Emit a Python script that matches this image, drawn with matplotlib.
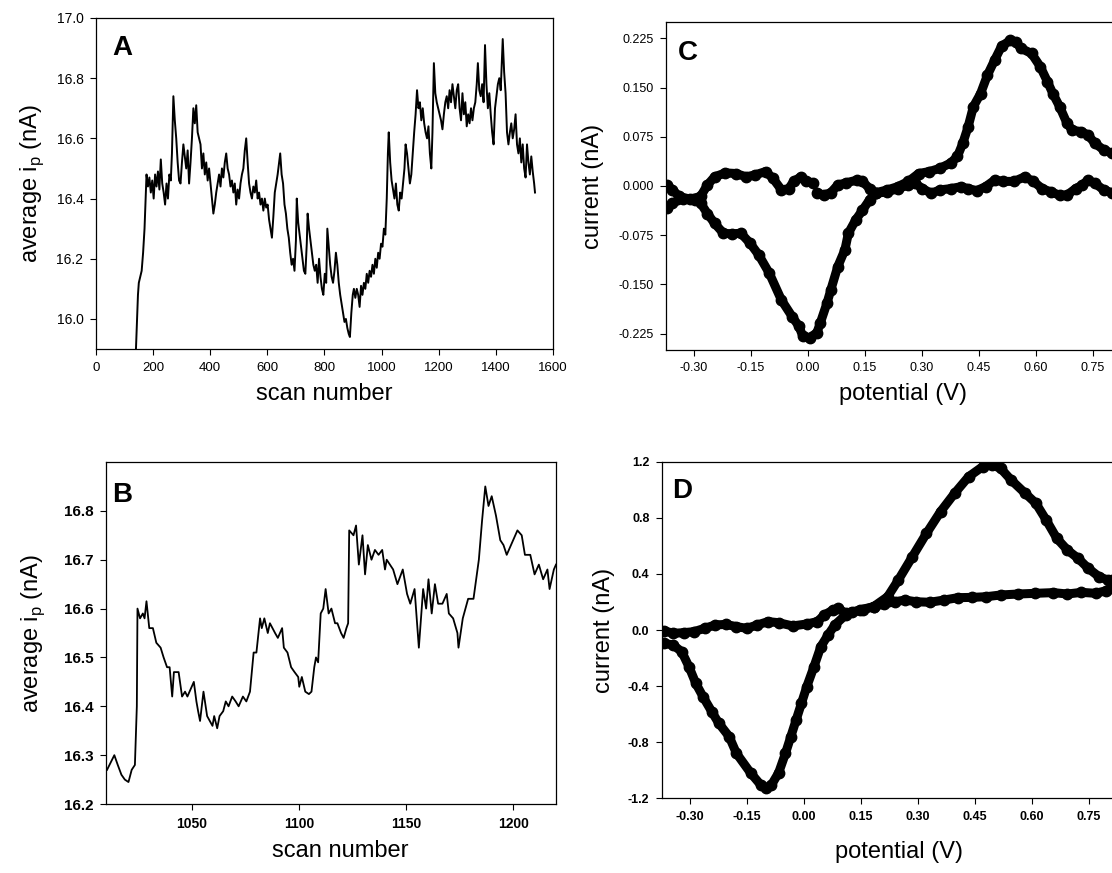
import numpy as np
import matplotlib
matplotlib.use("Agg")
import matplotlib.pyplot as plt

plt.rcParams["font.family"] = ["Liberation Sans", "DejaVu Sans"]
plt.rcParams["axes.unicode_minus"] = False
plt.rcParams["mathtext.fontset"] = "custom"
plt.rcParams["mathtext.rm"] = "Liberation Sans"

# ---- panel A: average peak current over the whole run ----
scan_a = [140, 143, 147, 150, 155, 160, 165, 170, 174, 177, 182, 187, 192, 197, 202, 207, 212, 217,
          222, 227, 232, 237, 242, 247, 252, 257, 262, 266, 271, 276, 281, 286, 291, 296, 301, 306,
          311, 316, 321, 326, 331, 336, 341, 346, 351, 356, 361, 366, 371, 376, 381, 386, 391, 396,
          401, 406, 411, 416, 421, 426, 431, 436, 441, 446, 451, 456, 461, 466, 471, 476, 481, 486,
          491, 496, 501, 506, 511, 516, 521, 526, 531, 536, 541, 546, 551, 556, 561, 566, 571, 576,
          581, 586, 591, 596, 601, 606, 611, 616, 621, 626, 631, 636, 641, 645, 650, 655, 660, 665,
          670, 675, 680, 685, 690, 695, 700, 703, 708, 713, 718, 723, 728, 733, 738, 741, 746, 751,
          756, 761, 766, 771, 776, 781, 786, 791, 796, 801, 806, 810, 815, 820, 825, 830, 835, 840,
          845, 850, 855, 860, 865, 870, 875, 880, 885, 889, 894, 899, 903, 908, 913, 918, 923, 928,
          933, 938, 943, 948, 953, 958, 963, 968, 973, 978, 983, 988, 993, 998, 1003, 1008, 1013,
          1018, 1022, 1025, 1030, 1035, 1040, 1045, 1050, 1055, 1060, 1065, 1070, 1075, 1080, 1084,
          1089, 1094, 1099, 1104, 1109, 1114, 1119, 1124, 1129, 1134, 1139, 1144, 1149, 1154, 1159,
          1164, 1169, 1174, 1178, 1183, 1188, 1193, 1198, 1203, 1208, 1213, 1218, 1223, 1228, 1233,
          1238, 1243, 1248, 1253, 1258, 1263, 1268, 1273, 1278, 1283, 1288, 1293, 1298, 1303, 1308,
          1313, 1318, 1323, 1328, 1333, 1337, 1342, 1347, 1352, 1357, 1362, 1367, 1372, 1377, 1382,
          1387, 1392, 1397, 1402, 1407, 1412, 1417, 1421, 1424, 1429, 1434, 1439, 1444, 1449, 1454,
          1459, 1464, 1469, 1474, 1479, 1484, 1489, 1494, 1499, 1504, 1509, 1514, 1519, 1524, 1529,
          1534, 1537]
ip_a = [15.90, 15.98, 16.08, 16.12, 16.14, 16.16, 16.22, 16.30, 16.40, 16.48, 16.44, 16.47, 16.42,
        16.46, 16.40, 16.48, 16.44, 16.49, 16.43, 16.53, 16.45, 16.42, 16.38, 16.45, 16.40, 16.48,
        16.46, 16.55, 16.74, 16.66, 16.60, 16.52, 16.46, 16.45, 16.52, 16.58, 16.54, 16.50, 16.56,
        16.45, 16.52, 16.60, 16.70, 16.65, 16.71, 16.62, 16.60, 16.58, 16.50, 16.55, 16.48, 16.52,
        16.46, 16.50, 16.45, 16.40, 16.35, 16.38, 16.42, 16.45, 16.48, 16.44, 16.50, 16.47, 16.52,
        16.55, 16.50, 16.48, 16.44, 16.46, 16.42, 16.45, 16.38, 16.43, 16.40, 16.45, 16.48, 16.50,
        16.56, 16.60, 16.52, 16.45, 16.42, 16.40, 16.44, 16.42, 16.46, 16.40, 16.42, 16.38, 16.40,
        16.36, 16.40, 16.37, 16.38, 16.33, 16.30, 16.27, 16.34, 16.42, 16.45, 16.48, 16.52, 16.55,
        16.48, 16.45, 16.38, 16.35, 16.30, 16.27, 16.22, 16.18, 16.20, 16.16, 16.26, 16.40, 16.32,
        16.28, 16.24, 16.20, 16.16, 16.15, 16.25, 16.35, 16.30, 16.26, 16.22, 16.18, 16.16, 16.18,
        16.12, 16.20, 16.14, 16.10, 16.08, 16.15, 16.12, 16.30, 16.24, 16.18, 16.14, 16.12, 16.16,
        16.22, 16.18, 16.12, 16.08, 16.05, 16.02, 15.99, 16.00, 15.97, 15.95, 15.94, 16.02, 16.08,
        16.10, 16.07, 16.10, 16.08, 16.04, 16.11, 16.08, 16.12, 16.10, 16.15, 16.12, 16.16, 16.14,
        16.18, 16.15, 16.20, 16.17, 16.22, 16.20, 16.25, 16.24, 16.30, 16.28, 16.40, 16.55, 16.62,
        16.52, 16.46, 16.43, 16.40, 16.45, 16.38, 16.36, 16.42, 16.40, 16.45, 16.50, 16.58, 16.55,
        16.50, 16.45, 16.48, 16.55, 16.62, 16.68, 16.76, 16.70, 16.72, 16.66, 16.70, 16.65, 16.62,
        16.60, 16.64, 16.55, 16.50, 16.62, 16.85, 16.75, 16.72, 16.70, 16.68, 16.66, 16.63, 16.68,
        16.72, 16.74, 16.70, 16.76, 16.72, 16.78, 16.74, 16.70, 16.76, 16.78, 16.70, 16.66, 16.75,
        16.68, 16.72, 16.64, 16.68, 16.65, 16.70, 16.66, 16.70, 16.72, 16.78, 16.85, 16.76, 16.74,
        16.78, 16.72, 16.91, 16.78, 16.70, 16.75, 16.68, 16.62, 16.58, 16.70, 16.74, 16.78, 16.80,
        16.76, 16.86, 16.93, 16.82, 16.75, 16.62, 16.58, 16.62, 16.65, 16.60, 16.63, 16.68, 16.58,
        16.55, 16.60, 16.52, 16.58, 16.50, 16.47, 16.58, 16.52, 16.48, 16.54, 16.49, 16.45, 16.42]

# ---- panel B: zoom on scans 1010-1220 ----
scan_b = [1010.5, 1013.9, 1015.5, 1017.2, 1018.8, 1020.5, 1022.0, 1023.5, 1024.4, 1024.7, 1025.9,
          1027.2, 1028.0, 1028.9, 1030.2, 1031.9, 1033.5, 1035.5, 1036.9, 1038.5, 1039.7, 1040.9,
          1041.7, 1043.9, 1045.5, 1046.9, 1048.0, 1051.0, 1052.2, 1053.0, 1053.9, 1055.5, 1057.2,
          1059.7, 1060.5, 1061.9, 1063.0, 1064.7, 1065.9, 1067.2, 1068.9, 1070.5, 1071.9, 1073.9,
          1075.5, 1077.2, 1078.9, 1080.2, 1081.9, 1082.7, 1083.9, 1085.5, 1086.5, 1088.9, 1090.2,
          1092.2, 1093.0, 1094.7, 1096.4, 1098.0, 1099.7, 1100.2, 1101.4, 1103.0, 1104.7, 1105.9,
          1107.2, 1108.0, 1109.0, 1110.2, 1111.4, 1112.5, 1113.9, 1115.2, 1116.9, 1118.0, 1119.7,
          1120.9, 1122.2, 1123.0, 1123.5, 1125.5, 1126.7, 1128.0, 1129.7, 1130.9, 1132.2, 1133.9,
          1135.5, 1137.2, 1138.9, 1140.2, 1141.0, 1144.0, 1146.0, 1148.5, 1150.5, 1152.0, 1154.0,
          1156.0, 1158.0, 1159.4, 1160.5, 1162.0, 1163.5, 1165.0, 1167.0, 1169.0, 1170.0, 1172.0,
          1174.0, 1174.5, 1176.5, 1179.0, 1181.5, 1184.0, 1185.5, 1187.0, 1188.5, 1190.0, 1192.0,
          1194.0, 1195.5, 1197.0, 1200.0, 1202.0, 1204.0, 1205.5, 1208.0, 1210.0, 1212.0, 1214.0,
          1216.0, 1217.0, 1219.0, 1220.0]
ip_b = [16.27, 16.30, 16.28, 16.26, 16.25, 16.245, 16.27, 16.28, 16.40, 16.60, 16.58, 16.59, 16.58,
        16.615, 16.56, 16.56, 16.53, 16.52, 16.50, 16.48, 16.48, 16.42, 16.47, 16.47, 16.42, 16.43,
        16.42, 16.45, 16.41, 16.39, 16.37, 16.43, 16.38, 16.36, 16.38, 16.355, 16.38, 16.39, 16.41,
        16.40, 16.42, 16.41, 16.40, 16.42, 16.41, 16.43, 16.51, 16.51, 16.58, 16.56, 16.58, 16.55,
        16.57, 16.55, 16.54, 16.56, 16.52, 16.51, 16.48, 16.47, 16.46, 16.44, 16.46, 16.43, 16.425,
        16.43, 16.48, 16.50, 16.49, 16.59, 16.60, 16.64, 16.59, 16.60, 16.57, 16.57, 16.55, 16.54,
        16.56, 16.57, 16.76, 16.75, 16.77, 16.69, 16.75, 16.67, 16.73, 16.70, 16.72, 16.71, 16.72,
        16.68, 16.70, 16.68, 16.65, 16.68, 16.63, 16.61, 16.64, 16.52, 16.64, 16.60, 16.66, 16.59,
        16.65, 16.61, 16.61, 16.63, 16.59, 16.58, 16.55, 16.52, 16.58, 16.62, 16.62, 16.70, 16.78,
        16.85, 16.81, 16.83, 16.79, 16.74, 16.73, 16.71, 16.74, 16.76, 16.75, 16.71, 16.71, 16.67,
        16.69, 16.66, 16.68, 16.64, 16.68, 16.69]

# ---- panel C: voltammogram, two sweeps ----
pot_c1 = [-0.371, -0.357, -0.339, -0.311, -0.283, -0.265, -0.246, -0.218, -0.190, -0.163, -0.139,
          -0.112, -0.093, -0.070, -0.051, -0.038, -0.019, -0.005, 0.013]
cur_c1 = [0.0015, -0.006, -0.016, -0.020, -0.016, 0.0015, 0.014, 0.020, 0.019, 0.014, 0.017,
          0.022, 0.012, -0.006, -0.004, 0.007, 0.014, 0.007, 0.005]
pot_c1b = [0.023, 0.041, 0.060, 0.078, 0.101, 0.129, 0.143, 0.162, 0.180, 0.208, 0.236, 0.264,
           0.282, 0.301, 0.324, 0.347, 0.375, 0.403, 0.421, 0.444, 0.467, 0.491, 0.514, 0.542,
           0.570, 0.593, 0.616, 0.639, 0.662, 0.681, 0.704, 0.722, 0.736, 0.755, 0.778, 0.799, 0.830]
cur_c1b = [-0.010, -0.014, -0.010, 0.0015, 0.005, 0.009, 0.007, -0.004, -0.011, -0.009, -0.004,
           0.0015, 0.004, -0.004, -0.011, -0.006, -0.004, -0.001, -0.004, -0.007, -0.001, 0.009,
           0.007, 0.007, 0.014, 0.007, -0.004, -0.009, -0.014, -0.014, -0.004, 0.0015, 0.009,
           0.004, -0.006, -0.010, -0.008]
pot_c2 = [-0.371, -0.357, -0.330, -0.297, -0.283, -0.265, -0.246, -0.223, -0.200, -0.177, -0.153,
          -0.130, -0.102, -0.070, -0.042, -0.024, -0.014, 0.004, 0.023, 0.032, 0.050, 0.060, 0.078,
          0.097, 0.106, 0.125, 0.143, 0.162, 0.180, 0.208, 0.236, 0.264, 0.291, 0.319, 0.347, 0.375,
          0.393, 0.407, 0.421, 0.435, 0.454, 0.472, 0.491, 0.509, 0.532, 0.546, 0.560, 0.588,
          0.611, 0.630, 0.644, 0.662, 0.681, 0.695, 0.718, 0.736, 0.755, 0.778, 0.799, 0.830]
cur_c2 = [-0.034, -0.026, -0.020, -0.021, -0.026, -0.042, -0.057, -0.072, -0.073, -0.072, -0.087,
          -0.105, -0.133, -0.174, -0.199, -0.214, -0.229, -0.231, -0.224, -0.209, -0.178, -0.158,
          -0.123, -0.097, -0.072, -0.052, -0.037, -0.021, -0.010, -0.006, -0.001, 0.007, 0.019,
          0.022, 0.027, 0.035, 0.045, 0.065, 0.090, 0.121, 0.141, 0.169, 0.192, 0.213, 0.222,
          0.220, 0.210, 0.202, 0.182, 0.159, 0.141, 0.121, 0.096, 0.085, 0.083, 0.078, 0.065,
          0.055, 0.050, 0.045]

# ---- panel D: voltammogram, two sweeps ----
pot_d1 = [-0.368, -0.345, -0.317, -0.290, -0.262, -0.234, -0.206, -0.178, -0.151, -0.123, -0.095,
          -0.067, -0.030, 0.007, 0.035, 0.053, 0.076, 0.090, 0.109, 0.127, 0.155, 0.183, 0.211,
          0.239, 0.266, 0.294, 0.331, 0.368, 0.405, 0.443, 0.480, 0.517, 0.563, 0.609, 0.656,
          0.693, 0.730, 0.767, 0.795, 0.811, 0.840]
cur_d1 = [-0.005, -0.024, -0.019, -0.012, 0.012, 0.036, 0.040, 0.024, 0.012, 0.036, 0.060, 0.052,
          0.029, 0.043, 0.060, 0.107, 0.143, 0.155, 0.119, 0.131, 0.143, 0.167, 0.186, 0.202,
          0.214, 0.202, 0.198, 0.214, 0.231, 0.233, 0.238, 0.250, 0.257, 0.262, 0.267, 0.257,
          0.269, 0.262, 0.281, 0.298, 0.310]
pot_d2 = [-0.368, -0.345, -0.322, -0.303, -0.285, -0.266, -0.243, -0.225, -0.197, -0.178, -0.141,
          -0.114, -0.100, -0.086, -0.067, -0.049, -0.035, -0.021, -0.007, 0.007, 0.026, 0.044,
          0.063, 0.081, 0.109, 0.146, 0.183, 0.220, 0.248, 0.285, 0.322, 0.359, 0.396, 0.433,
          0.470, 0.494, 0.517, 0.545, 0.582, 0.610, 0.637, 0.665, 0.693, 0.721, 0.748, 0.776,
          0.799, 0.811, 0.840]
cur_d2 = [-0.095, -0.107, -0.155, -0.262, -0.381, -0.476, -0.583, -0.664, -0.762, -0.881, -1.020,
          -1.107, -1.130, -1.107, -1.020, -0.881, -0.762, -0.643, -0.524, -0.405, -0.262, -0.119,
          -0.036, 0.036, 0.107, 0.143, 0.167, 0.238, 0.357, 0.524, 0.690, 0.845, 0.976, 1.095,
          1.167, 1.179, 1.155, 1.071, 0.976, 0.905, 0.786, 0.655, 0.571, 0.512, 0.440, 0.381,
          0.357, 0.357, 0.340]

fig = plt.figure(figsize=(11.12, 8.73), dpi=100)

ax_a = fig.add_axes([0.0863, 0.6002, 0.4110, 0.3792])
ax_b = fig.add_axes([0.0953, 0.0790, 0.4047, 0.3918])
ax_c = fig.add_axes([0.5989, 0.5991, 0.4268, 0.3757])
ax_d = fig.add_axes([0.5953, 0.0859, 0.4268, 0.3849])

ax_a.plot(scan_a, ip_a, color="black", lw=1.4)
ax_b.plot(scan_b, ip_b, color="black", lw=1.3)

dot = dict(color="black", lw=6.5, marker="o", ms=7.5, solid_capstyle="round",
           solid_joinstyle="round")
ax_c.plot(pot_c1, cur_c1, **dot)
ax_c.plot(pot_c1b, cur_c1b, **dot)
ax_c.plot(pot_c2, cur_c2, **dot)
ax_d.plot(pot_d1, cur_d1, **dot)
ax_d.plot(pot_d2, cur_d2, **dot)

ax_a.set_xlim(0, 1600)
ax_a.set_ylim(15.9, 17.0)
ax_a.set_xticks(np.arange(0, 1601, 200))
ax_a.set_yticks([16.0, 16.2, 16.4, 16.6, 16.8, 17.0])
ax_a.set_yticklabels(["16.0", "16.2", "16.4", "16.6", "16.8", "17.0"])

ax_b.set_xlim(1010, 1220)
ax_b.set_ylim(16.2, 16.9)
ax_b.set_xticks([1050, 1100, 1150, 1200])
ax_b.set_yticks([16.2, 16.3, 16.4, 16.5, 16.6, 16.7, 16.8])
ax_b.set_yticklabels(["16.2", "16.3", "16.4", "16.5", "16.6", "16.7", "16.8"])

pot_ticks = [-0.30, -0.15, 0.00, 0.15, 0.30, 0.45, 0.60, 0.75]
pot_labels = ["-0.30", "-0.15", "0.00", "0.15", "0.30", "0.45", "0.60", "0.75"]
for ax in (ax_c, ax_d):
    ax.set_xlim(-0.374, 0.875)
    ax.set_xticks(pot_ticks)
    ax.set_xticklabels(pot_labels)

ax_c.set_ylim(-0.25, 0.25)
ax_c.set_yticks([-0.225, -0.15, -0.075, 0.0, 0.075, 0.15, 0.225])
ax_c.set_yticklabels(["-0.225", "-0.150", "-0.075", "0.000", "0.075", "0.150", "0.225"])
ax_d.set_ylim(-1.2, 1.2)
ax_d.set_yticks([-1.2, -0.8, -0.4, 0.0, 0.4, 0.8, 1.2])
ax_d.set_yticklabels(["-1.2", "-0.8", "-0.4", "0.0", "0.4", "0.8", "1.2"])

# tick label sizes (x, y) and weight per panel
tick_style = {ax_a: (9.5, 10, "normal"), ax_b: (10, 11, "bold"),
              ax_c: (9, 9, "normal"), ax_d: (9, 9, "bold")}
for ax, (xs, ys, wt) in tick_style.items():
    ax.tick_params(direction="out", length=4, width=0.8, pad=5, top=False, right=False)
    ax.tick_params(axis="x", labelsize=xs)
    ax.tick_params(axis="y", labelsize=ys)
    for lab in ax.get_xticklabels() + ax.get_yticklabels():
        lab.set_fontweight(wt)
    for sp in ax.spines.values():
        sp.set_linewidth(0.9)

ylab = r"average i$_\mathregular{p}$ (nA)"
ax_a.set_ylabel(ylab, fontsize=17)
ax_b.set_ylabel(ylab, fontsize=17)
ax_c.set_ylabel("current (nA)", fontsize=17)
ax_d.set_ylabel("current (nA)", fontsize=17)
ax_a.set_xlabel("scan number", fontsize=17)
ax_b.set_xlabel("scan number", fontsize=17)
ax_c.set_xlabel("potential (V)", fontsize=17)
ax_d.set_xlabel("potential (V)", fontsize=17)

ax_a.yaxis.set_label_coords(-0.11, 0.5)
ax_b.yaxis.set_label_coords(-0.13, 0.5)
ax_c.yaxis.set_label_coords(-0.13, 0.5)
ax_d.yaxis.set_label_coords(-0.10, 0.5)
ax_a.xaxis.set_label_coords(0.5, -0.102)
ax_b.xaxis.set_label_coords(0.52, -0.104)
ax_c.xaxis.set_label_coords(0.5, -0.102)
ax_d.xaxis.set_label_coords(0.5, -0.128)

ax_a.text(0.035, 0.888, "A", transform=ax_a.transAxes, fontsize=20, fontweight="bold")
ax_b.text(0.013, 0.883, "B", transform=ax_b.transAxes, fontsize=20, fontweight="bold")
ax_c.text(0.025, 0.884, "C", transform=ax_c.transAxes, fontsize=20, fontweight="bold")
ax_d.text(0.021, 0.893, "D", transform=ax_d.transAxes, fontsize=20, fontweight="bold")

fig.savefig("out.png", dpi=100)
